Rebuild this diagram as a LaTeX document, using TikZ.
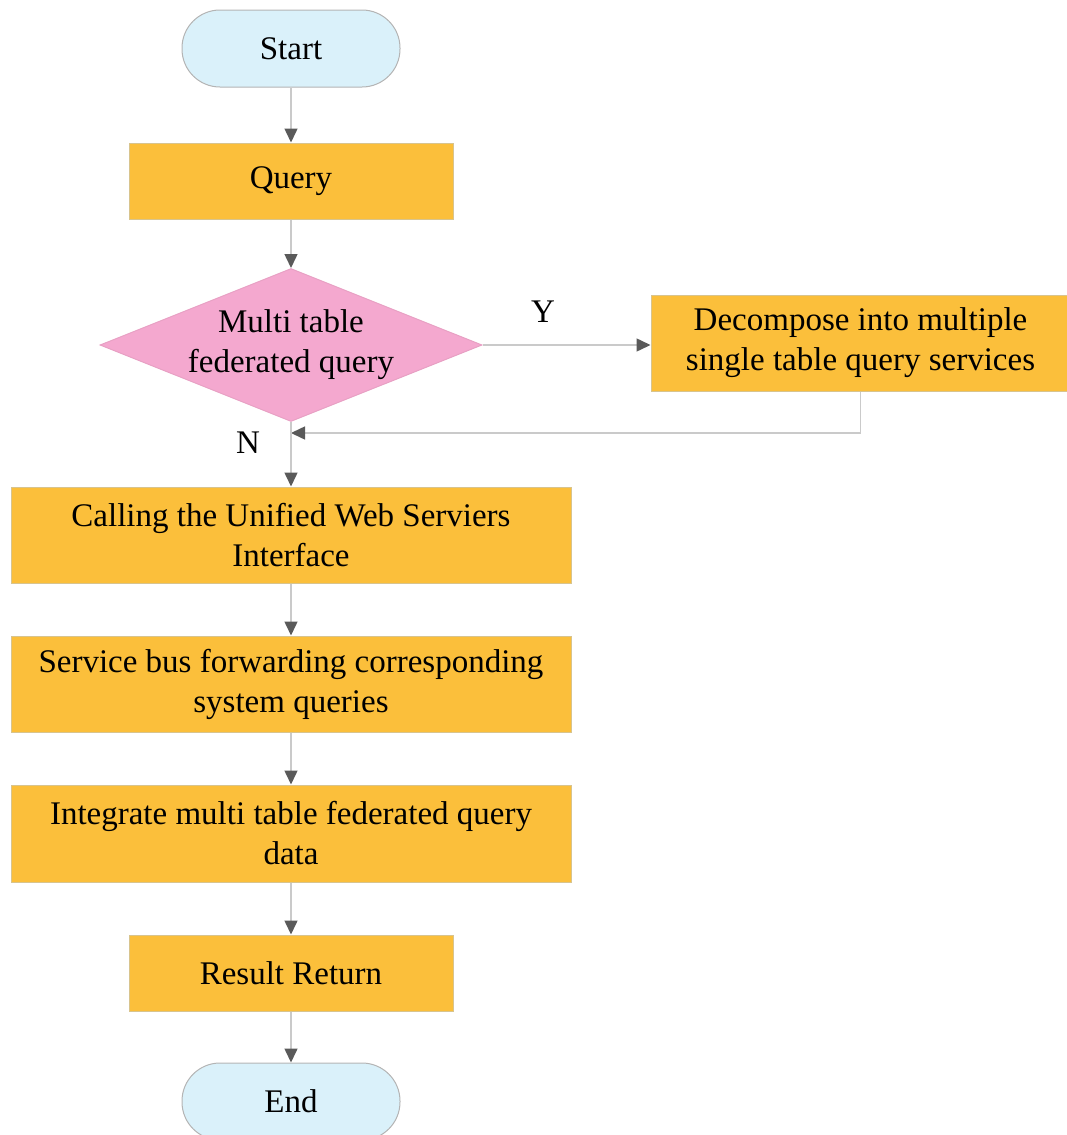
\documentclass[tikz,border=0pt]{standalone}
\usepackage{fontspec}
\setmainfont{Liberation Serif}
\usetikzlibrary{arrows.meta,shapes.geometric}
\definecolor{termfill}{HTML}{DAF1FA}
\definecolor{termline}{HTML}{B4B4B4}
\definecolor{procfill}{HTML}{FBBF3B}
\definecolor{procline}{HTML}{D8C48E}
\definecolor{decfill}{HTML}{F4A8CF}
\definecolor{decline}{HTML}{E8A0C4}
\definecolor{linkgray}{HTML}{CACACA}
\definecolor{tipgray}{HTML}{5A5A5A}
\tikzset{
  every node/.style={font=\fontsize{33}{40}\selectfont, align=center},
  terminal/.style={draw=termline, fill=termfill, line width=1pt,
    rounded corners=38pt, minimum width=218pt, minimum height=77pt, inner sep=0pt},
  process/.style={draw=procline, fill=procfill, line width=1pt,
    minimum height=76pt, inner sep=0pt},
  decision/.style={diamond, draw=decline, fill=decfill, line width=1pt,
    minimum width=382pt, minimum height=153pt, inner sep=0pt, aspect=2.5},
  link/.style={draw=linkgray, line width=1.5pt,
    -{Triangle[length=14pt,width=13pt,color=tipgray]}},
  plainlink/.style={draw=linkgray, line width=1.5pt},
  tag/.style={font=\fontsize{33}{40}\selectfont}
}
\begin{document}
\begin{tikzpicture}[x=1pt,y=-1pt]
  \useasboundingbox (0,0) rectangle (1066,1135);
  % main column
  \node[terminal] (start) at (291,48.5) {Start};
  \node[process, minimum width=324pt] (query) at (291,181) {Query};
  \node[decision] (multi) at (291,345) {Multi table\\federated query};
  \node[process, minimum width=419pt, minimum height=96pt] (decomp) at (860.5,343)
    {Decompose into multiple\\single table query services};
  \node[process, minimum width=560pt, minimum height=96pt] (call) at (291,535)
    {Calling the Unified Web Serviers\\Interface};
  \node[process, minimum width=560pt, minimum height=96pt] (bus) at (291,684)
    {Service bus forwarding corresponding\\system queries};
  \node[process, minimum width=560pt, minimum height=97pt] (integ) at (291,833.5)
    {Integrate multi table federated query\\data};
  \node[process, minimum width=324pt] (result) at (291,973) {Result Return};
  \node[terminal] (end) at (291,1101.5) {End};
  % branch labels
  \node[tag] (ylab) at (543,312) {Y};
  \node[tag] (nlab) at (248,443) {N};
  % return path from the decomposition box
  \coordinate (turn) at (decomp.south |- 0,433);
  \coordinate (merge) at (291,433);
  % connectors
  \draw[link] (start) -- (query);
  \draw[link] (query) -- (multi.north);
  \draw[link] (multi.east) -- (multi.east -| decomp.west);
  \draw[plainlink] (decomp.south) -- (turn);
  \draw[link] (turn) -- (merge);
  \draw[link] (multi.south) -- (call.north);
  \draw[link] (call) -- (bus);
  \draw[link] (bus) -- (integ);
  \draw[link] (integ) -- (result);
  \draw[link] (result) -- (end);
\end{tikzpicture}
\end{document}
